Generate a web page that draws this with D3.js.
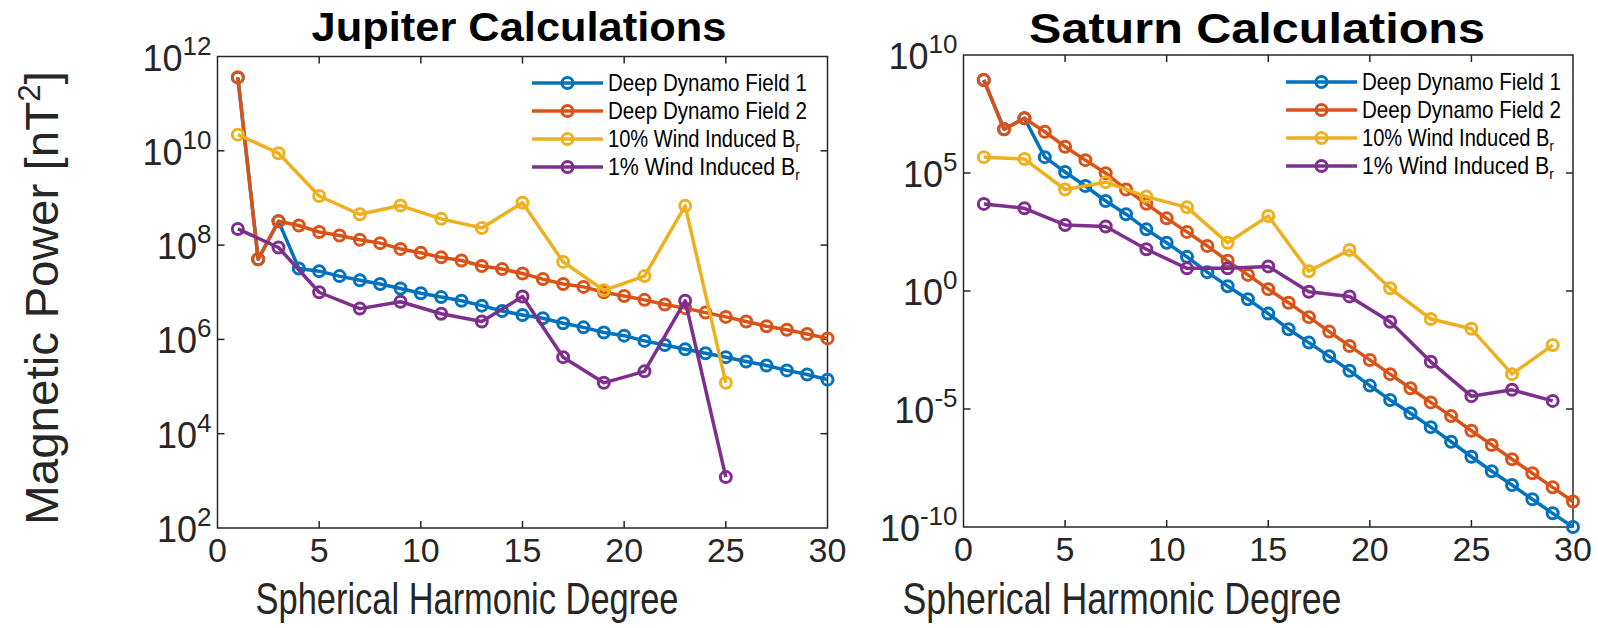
<!DOCTYPE html>
<html>
<head>
<meta charset="utf-8">
<script src="https://cdn.jsdelivr.net/npm/d3@7"></script>
<style>
  body { margin: 0; background: #fff; }
  svg { display: block; font-family: "Liberation Sans", Arial, Helvetica, sans-serif; }
  .axis-line { stroke: #262626; stroke-width: 1.5; fill: none; }
  .tick-lab { fill: #262626; }
</style>
</head>
<body>
<div id="chart"></div>
<script>
// spherical harmonic degrees
var degrees = d3.range(1, 31);
var oddDegJup = [1, 3, 5, 7, 9, 11, 13, 15, 17, 19, 21, 23, 25];
var oddDegSat = [1, 3, 5, 7, 9, 11, 13, 15, 17, 19, 21, 23, 25, 27, 29];

var seriesNames = ["Deep Dynamo Field 1", "Deep Dynamo Field 2", "10% Wind Induced B", "1% Wind Induced B"];
var seriesColors = ["#0072BD", "#D95319", "#EDB120", "#7E2F8E"];

// Jupiter [nT^2]
var jupDyn1 = [3.6e11, 5.0e7, 3.2e8, 3.2e7, 2.8e7, 2.2e7, 1.8e7, 1.5e7, 1.2e7, 9.5e6,
  7.9e6, 6.6e6, 5.2e6, 4.0e6, 3.3e6, 2.8e6, 2.2e6, 1.8e6, 1.4e6, 1.2e6,
  9.3e5, 7.6e5, 6.2e5, 5.1e5, 4.2e5, 3.4e5, 2.8e5, 2.2e5, 1.8e5, 1.4e5];
var jupDyn2 = [3.6e11, 5.0e7, 3.2e8, 2.6e8, 1.9e8, 1.6e8, 1.3e8, 1.1e8, 8.3e7, 6.9e7,
  5.5e7, 4.7e7, 3.6e7, 3.1e7, 2.5e7, 1.9e7, 1.5e7, 1.3e7, 1.0e7, 8.3e6,
  6.9e6, 5.5e6, 4.6e6, 3.7e6, 3.0e6, 2.4e6, 1.9e6, 1.6e6, 1.3e6, 1.05e6];
var jupWind10 = [2.2e10, 8.9e9, 1.1e9, 4.5e8, 6.9e8, 3.6e8, 2.3e8, 7.9e8, 4.4e7, 1.1e7, 2.2e7, 6.8e8, 1.2e5];
var jupWind1 = [2.2e8, 8.9e7, 1.0e7, 4.5e6, 6.3e6, 3.5e6, 2.4e6, 8.1e6, 4.2e5, 1.2e5, 2.1e5, 6.6e6, 1.2e3];

// Saturn [nT^2]
var satDyn1 = [8.7e8, 7.1e6, 2.1e7, 4.7e5, 1.1e5, 2.8e4, 6.5e3, 1.8e3, 4.1e2, 1.1e2,
  28, 6.3, 1.6, 0.45, 0.11, 0.024, 6.5e-3, 1.7e-3, 4.2e-4, 9.8e-5,
  2.4e-5, 6.6e-6, 1.7e-6, 4.1e-7, 9.5e-8, 2.3e-8, 6.0e-9, 1.5e-9, 3.8e-10, 1.0e-10];
var satDyn2 = [8.7e8, 7.1e6, 2.1e7, 5.6e6, 1.3e6, 3.5e5, 9.8e4, 2.0e4, 5.0e3, 1.2e3,
  3.2e2, 81, 19, 4.8, 1.2, 0.32, 0.078, 0.019, 4.7e-3, 1.2e-3,
  3.0e-4, 7.6e-5, 1.9e-5, 5.0e-6, 1.2e-6, 3.0e-7, 7.4e-8, 1.9e-8, 4.8e-9, 1.2e-9];
var satWind10 = [4.7e5, 3.9e5, 2.0e4, 4.1e4, 1.0e4, 3.5e3, 1.1e2, 1.5e3, 6.9, 55, 1.3, 0.065, 0.025, 3.0e-4, 5.1e-3];
var satWind1 = [4.9e3, 3.2e3, 6.3e2, 5.4e2, 59, 9.1, 9.1, 11, 0.93, 0.59, 0.050, 1.0e-3, 3.5e-5, 6.5e-5, 2.2e-5];

var xTicks = [0, 5, 10, 15, 20, 25, 30];
var jupYExp = [2, 4, 6, 8, 10, 12];
var satYExp = [-10, -5, 0, 5, 10];

var W = 1598, H = 628;
var svg = d3.select("#chart").append("svg")
    .attr("width", W)
    .attr("height", H);

// squeeze/stretch a text horizontally so it spans the wanted width
function fitText(t, x, y, w, rot) {
    var cur = t.node().getComputedTextLength();
    t.attr("x", 0).attr("y", 0)
     .attr("transform", `translate(${x},${y})` + (rot ? ` rotate(${rot})` : "") + ` scale(${w / cur},1)`);
}

function drawPanel(p) {
    var x = d3.scaleLinear().domain([0, 30]).range([p.left, p.right]);
    var y = d3.scaleLog().domain(p.yDomain).range([p.bottom, p.top]);
    var g = svg.append("g");
    var tk = 7;

    // ticks on all four sides (inward)
    g.selectAll("line.xt").data(xTicks.slice(1, -1)).enter().append("line")
        .attr("class", "axis-line")
        .attr("x1", d => x(d)).attr("x2", d => x(d))
        .attr("y1", p.bottom).attr("y2", p.bottom - tk);
    g.selectAll("line.xtt").data(xTicks.slice(1, -1)).enter().append("line")
        .attr("class", "axis-line")
        .attr("x1", d => x(d)).attr("x2", d => x(d))
        .attr("y1", p.top).attr("y2", p.top + tk);
    var yInner = p.yExp.slice(1, -1);
    g.selectAll("line.yt").data(yInner).enter().append("line")
        .attr("class", "axis-line")
        .attr("x1", p.left).attr("x2", p.left + tk)
        .attr("y1", d => y(Math.pow(10, d))).attr("y2", d => y(Math.pow(10, d)));
    g.selectAll("line.ytr").data(yInner).enter().append("line")
        .attr("class", "axis-line")
        .attr("x1", p.right).attr("x2", p.right - tk)
        .attr("y1", d => y(Math.pow(10, d))).attr("y2", d => y(Math.pow(10, d)));

    g.append("rect")
        .attr("class", "axis-line")
        .attr("x", p.left).attr("y", p.top)
        .attr("width", p.right - p.left).attr("height", p.bottom - p.top);

    // x tick labels
    g.selectAll("text.xl").data(xTicks).enter().append("text")
        .attr("class", "tick-lab")
        .attr("x", d => x(d))
        .attr("y", p.bottom + 34)
        .attr("text-anchor", "middle")
        .style("font-size", "34px")
        .text(d => d);

    // y tick labels 10^n
    var yl = g.selectAll("text.yl").data(p.yExp).enter().append("text")
        .attr("class", "tick-lab")
        .attr("x", p.left - 6)
        .attr("y", d => y(Math.pow(10, d)) + 14)
        .attr("text-anchor", "end")
        .style("font-size", "36px");
    yl.append("tspan").text("10");
    yl.append("tspan").attr("dy", -16).style("font-size", "26px").text(d => d < 0 ? "-" + Math.abs(d) : d);

    // series
    var line = d3.line().x(d => x(d[0])).y(d => y(d[1]));
    p.series.forEach(function(s, i) {
        var pts = s.deg.map((d, j) => [d, s.val[j]]);
        g.append("path")
            .datum(pts)
            .attr("d", line)
            .attr("fill", "none")
            .attr("stroke", seriesColors[i])
            .attr("stroke-width", 3.5)
            .attr("stroke-linejoin", "round");
        g.selectAll(null).data(pts).enter().append("circle")
            .attr("cx", d => x(d[0]))
            .attr("cy", d => y(d[1]))
            .attr("r", 5.5)
            .attr("fill", "none")
            .attr("stroke", seriesColors[i])
            .attr("stroke-width", 3);
    });

    // title
    var t = svg.append("text")
        .style("font-size", p.titleSize + "px")
        .style("font-weight", "bold")
        .attr("text-anchor", "middle")
        .text(p.title);
    fitText(t, p.titleX, p.titleY, p.titleW);

    // x label
    var xlab = svg.append("text")
        .attr("class", "tick-lab")
        .style("font-size", "44px")
        .attr("text-anchor", "middle")
        .text("Spherical Harmonic Degree");
    fitText(xlab, p.xLabX, 614, p.xLabW);

    // legend
    var lg = svg.append("g");
    seriesNames.forEach(function(n, i) {
        var ry = p.legY + i * 28;
        lg.append("line")
            .attr("x1", p.legX).attr("x2", p.legX + 71)
            .attr("y1", ry).attr("y2", ry)
            .attr("stroke", seriesColors[i]).attr("stroke-width", 3.5);
        lg.append("circle")
            .attr("cx", p.legX + 35.5).attr("cy", ry).attr("r", 5.5)
            .attr("fill", "none").attr("stroke", seriesColors[i]).attr("stroke-width", 3);
        var lt = lg.append("text")
            .style("font-size", "23px")
            .attr("fill", "#000");
        lt.append("tspan").text(n);
        if (i >= 2) lt.append("tspan").attr("dy", 5).style("font-size", "15px").text("r");
        var w = i >= 2 ? 192 : 199;
        fitText(lt, p.legX + 76, ry + 8, w);
    });
}

drawPanel({
    left: 217.5, right: 827.5, top: 56.5, bottom: 528,
    yDomain: [1e2, 1e12], yExp: jupYExp,
    title: "Jupiter Calculations", titleSize: 40, titleX: 519, titleY: 41, titleW: 415,
    xLabX: 467, xLabW: 423,
    legX: 532, legY: 83,
    series: [
        {deg: degrees, val: jupDyn1},
        {deg: degrees, val: jupDyn2},
        {deg: oddDegJup, val: jupWind10},
        {deg: oddDegJup, val: jupWind1}
    ]
});

drawPanel({
    left: 963.5, right: 1573, top: 55, bottom: 527,
    yDomain: [1e-10, 1e10], yExp: satYExp,
    title: "Saturn Calculations", titleSize: 43, titleX: 1257, titleY: 43, titleW: 456,
    xLabX: 1122, xLabW: 439,
    legX: 1286, legY: 82,
    series: [
        {deg: degrees, val: satDyn1},
        {deg: degrees, val: satDyn2},
        {deg: oddDegSat, val: satWind10},
        {deg: oddDegSat, val: satWind1}
    ]
});

// shared y label
var ylab = svg.append("text")
    .attr("class", "tick-lab")
    .style("font-size", "47px")
    .attr("text-anchor", "middle");
ylab.append("tspan").text("Magnetic Power [nT");
ylab.append("tspan").attr("dy", -18).style("font-size", "31px").text("2");
ylab.append("tspan").attr("dy", 18).text("]");
fitText(ylab, 58, 298, 454, -90);
</script>
</body>
</html>
